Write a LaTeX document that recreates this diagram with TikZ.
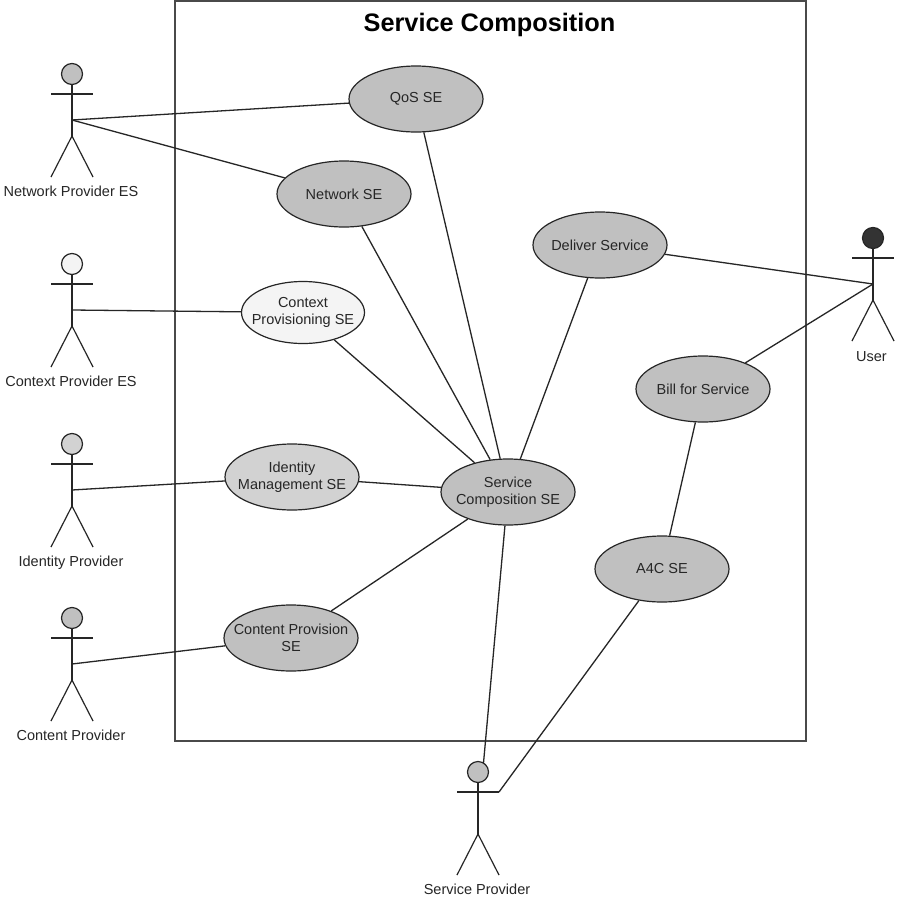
\documentclass[tikz,border=0pt]{standalone}
\usepackage{fontspec}
\setmainfont{Liberation Sans}
\usetikzlibrary{shapes.geometric}
\definecolor{inkc}{HTML}{262626}
\definecolor{framec}{HTML}{4A4A4A}
\definecolor{midgray}{HTML}{C0C0C0}
\definecolor{softgray}{HTML}{D2D2D2}
\definecolor{palegray}{HTML}{F4F4F4}
\definecolor{darkhead}{HTML}{333333}
\tikzset{
  frameline/.style={draw=framec,line width=1.5pt},
  conn/.style={draw=inkc,line width=1.3pt},
  limb/.style={draw=inkc,line width=1.2pt},
  usecase/.style={ellipse,draw=inkc,line width=1.2pt,fill=midgray,minimum width=134pt,minimum height=66pt,inner xsep=-22pt,inner ysep=-8pt,align=center,font=\fontsize{14.5}{17}\selectfont,text=inkc},
  head/.style={circle,draw=inkc,line width=1.2pt,minimum size=21pt,inner sep=0pt},
  actorlabel/.style={font=\fontsize{14.5}{17}\selectfont,text=inkc,inner sep=0pt,anchor=base},
  titlelabel/.style={font=\bfseries\fontsize{25.3}{28}\selectfont,text=black,inner sep=0pt,anchor=base}
}
% name, x, y of head centre, head fill, label, label x, label baseline y
\newcommand{\umlactor}[7]{%
  \coordinate (#1-neck) at (#2,#3+10);
  \coordinate (#1-crotch) at (#2,#3+62);
  \coordinate (#1-hub) at (#2,#3+46);
  \coordinate (#1-armw) at (#2-21,#3+20);
  \coordinate (#1-arme) at (#2+21,#3+20);
  \coordinate (#1-footw) at (#2-21,#3+103);
  \coordinate (#1-foote) at (#2+21,#3+103);
  \draw[limb] (#1-neck) -- (#1-crotch);
  \draw[limb] (#1-armw) -- (#1-arme);
  \draw[limb] (#1-footw) -- (#1-crotch) -- (#1-foote);
  \node[head,fill=#4] (#1-head) at (#2,#3) {};
  \node[actorlabel] (#1-label) at (#6,#7) {#5};
}
\begin{document}
\begin{tikzpicture}[x=1pt,y=-1pt]
\useasboundingbox (0,0) rectangle (900,900);
\fill[white] (0,0) rectangle (900,900);
\node[draw=none,inner sep=0pt,minimum width=631pt,minimum height=740pt,frameline] (frame) at (490.5,371) {};
\node[titlelabel] (title) at (489.5,31) {Service Composition};

\umlactor{np}{72}{74}{midgray}{Network Provider ES}{71}{196}
\umlactor{cp}{72}{264}{palegray}{Context Provider ES}{71}{386}
\umlactor{ip}{72}{444}{softgray}{Identity Provider}{71}{566}
\umlactor{ct}{72}{618}{midgray}{Content Provider}{71}{740}
\umlactor{us}{873}{238}{darkhead}{User}{871.5}{361}
\umlactor{sp}{478}{772}{midgray}{Service Provider}{477}{894}
\coordinate (sp-top) at (483.5,763);

\node[usecase] (qos) at (416,99) {QoS SE};
\node[usecase] (net) at (344,194) {Network SE};
\node[usecase] (del) at (600,245) {Deliver Service};
\node[usecase,fill=palegray,minimum width=123pt,minimum height=62pt] (ctx) at (303,312.5) {Context\\Provisioning SE};
\node[usecase,fill=softgray] (idn) at (292,477) {Identity\\Management SE};
\node[usecase] (bil) at (703,389) {Bill for Service};
\node[usecase] (sc) at (508,492) {Service\\Composition SE};
\node[usecase] (a4c) at (662,569) {A4C SE};
\node[usecase] (con) at (291,638) {Content Provision\\SE};

\draw[conn] (np-hub) -- (qos);
\draw[conn] (np-hub) -- (net);
\draw[conn] (cp-hub) -- (ctx);
\draw[conn] (ip-hub) -- (idn);
\draw[conn] (ct-hub) -- (con);
\draw[conn] (qos) -- (sc);
\draw[conn] (net) -- (sc);
\draw[conn] (ctx) -- (sc);
\draw[conn] (idn) -- (sc);
\draw[conn] (con) -- (sc);
\draw[conn] (del) -- (sc);
\draw[conn] (sc) -- (sp-top);
\draw[conn] (del) -- (us-hub);
\draw[conn] (bil) -- (us-hub);
\draw[conn] (bil) -- (a4c);
\draw[conn] (a4c) -- (sp-arme);
\end{tikzpicture}
\end{document}
